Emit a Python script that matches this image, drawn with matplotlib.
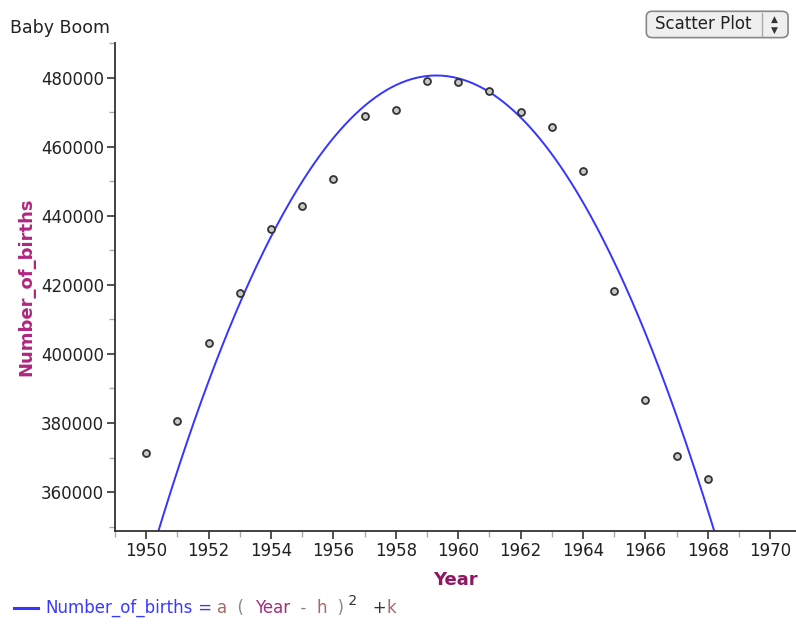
import numpy as np
import matplotlib
matplotlib.use("Agg")
from matplotlib import pyplot as plt
from matplotlib.patches import FancyBboxPatch
from matplotlib.lines import Line2D

# Births per year
years = [1950, 1951, 1952, 1953, 1954, 1955, 1956, 1957, 1958, 1959,
         1960, 1961, 1962, 1963, 1964, 1965, 1966, 1967, 1968]
births = [371300, 380500, 403300, 417700, 436200, 442800, 450600, 469000, 470500, 479100,
          478800, 476000, 469900, 465600, 452900, 418300, 386800, 370400, 363800]

# Fitted parabola: Number_of_births = a (Year - h)^2 + k
a = -1661.0
h = 1959.3
k = 480600.0

plt.rcParams['font.family'] = ['DejaVu Sans']

fig = plt.figure(figsize=(7.96, 6.27), dpi=100)
ax = fig.add_axes([0.1445, 0.1531, 0.8555, 0.7783])

xs = np.linspace(1949.0, 1970.8, 400)
ax.plot(xs, a * (xs - h) ** 2 + k, color='#3535ff', lw=1.4, zorder=2)
ax.plot(years, births, 'o', ms=5, mfc='#c8c8c8', mec='#333333', mew=1.3, zorder=3)

ax.set_xlim(1949.0, 1970.83)
ax.set_ylim(348750, 489500)

ax.spines['top'].set_visible(False)
ax.spines['right'].set_visible(False)
for s in ('left', 'bottom'):
    ax.spines[s].set_color('#333333')
    ax.spines[s].set_linewidth(1.3)

ax.set_xticks(range(1950, 1971, 2))
ax.set_xticks(range(1949, 1971, 2), minor=True)
ax.set_yticks(range(360000, 480001, 20000))
ax.set_yticks(range(350000, 490001, 20000), minor=True)
ax.tick_params(axis='both', which='major', length=6, width=1.2, color='#333333',
               labelsize=12, labelcolor='#222222', pad=2)
ax.tick_params(axis='both', which='minor', length=4, width=1, color='#aaaaaa')

ax.set_xlabel('Year', color='#8b1a62', fontsize=13, fontweight='bold', labelpad=8)
ax.set_ylabel('Number_of_births', color='#b0267f', fontsize=13, fontweight='bold', labelpad=4)

fig.text(0.013, 0.955, 'Baby Boom', fontsize=12.5, color='#222222', va='center')

# "Scatter Plot" selector box
btn = FancyBboxPatch((0.812, 0.94), 0.178, 0.042, boxstyle='round,pad=0,rounding_size=0.008',
                     transform=fig.transFigure, fc='#efefef', ec='#888888', lw=1.2)
fig.patches.append(btn)
fig.lines.append(Line2D([0.957, 0.957], [0.942, 0.980], transform=fig.transFigure,
                        color='#aaaaaa', lw=1))
fig.text(0.823, 0.961, 'Scatter Plot', fontsize=12, color='#222222', va='center')
fig.text(0.973, 0.969, '\u25b2', fontsize=6.5, color='#333333', ha='center', va='center')
fig.text(0.973, 0.952, '\u25bc', fontsize=6.5, color='#333333', ha='center', va='center')

# Footer formula legend
fig.lines.append(Line2D([0.018, 0.048], [0.031, 0.031], transform=fig.transFigure,
                        color='#3535ff', lw=2.2))
parts = [('Number_of_births', '#3a3aff', 12, 0),
         (' = ', '#3a3aff', 12, 0),
         ('a', '#a86868', 12, 0),
         ('  (  ', '#888888', 12, 0),
         ('Year', '#a0307a', 12, 0),
         ('  -  ', '#888888', 12, 0),
         ('h', '#a86868', 12, 0),
         ('  )', '#888888', 12, 0),
         (' 2', '#333333', 10, 7),
         ('   +', '#333333', 12, 0),
         ('k', '#a86868', 12, 0)]
xpos = 0.057
renderer = fig.canvas.get_renderer()
for txt, col, fs, dy in parts:
    t = fig.text(xpos, 0.031 + dy / 627, txt, fontsize=fs, color=col, va='center')
    bb = t.get_window_extent(renderer=renderer)
    xpos += bb.width / fig.bbox.width

fig.savefig('out.png', dpi=100)
